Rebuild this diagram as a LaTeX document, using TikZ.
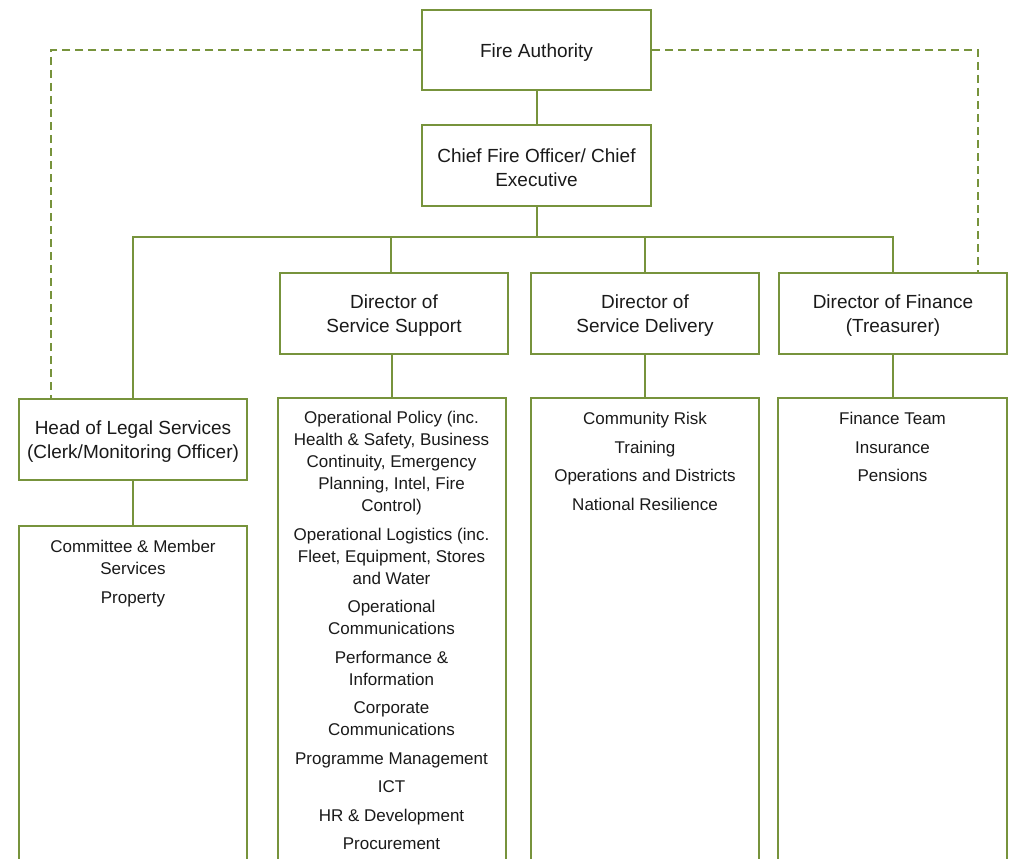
\documentclass[tikz,border=0pt]{standalone}
\usepackage{fontspec}
\setmainfont{Liberation Sans}
\definecolor{olive}{HTML}{77933C}
\definecolor{txt}{HTML}{1A1A1A}
\tikzset{
  box/.style={draw=olive, line width=2pt, fill=white, inner sep=0pt},
  boxtext/.style={inner sep=0pt, align=center, text=txt, font=\fontsize{19}{24}\selectfont},
  listbox/.style={draw=olive, line width=2pt, fill=white, inner sep=0pt},
  listtext/.style={anchor=north, inner sep=0pt, align=center, text=txt,
    font=\fontsize{17}{22}\selectfont},
  conn/.style={draw=olive, line width=2pt},
  dashconn/.style={draw=olive, line width=2pt, dash pattern=on 8pt off 5pt}
}
\begin{document}
\begin{tikzpicture}[x=1pt,y=-1pt]
\clip (0,0) rectangle (1009,859);
\fill[white] (0,0) rectangle (1009,859);

% header boxes
\node[box, minimum width=229, minimum height=80] (fa) at (536.5,50) {};
\node[box, minimum width=229, minimum height=81] (chief) at (536.5,165.5) {};
\node[box, minimum width=228, minimum height=81] (dss) at (394,313) {};
\node[box, minimum width=228, minimum height=81] (dsd) at (645,313) {};
\node[box, minimum width=228, minimum height=81] (dfin) at (893,313) {};
\node[box, minimum width=228, minimum height=81] (legal) at (133,439) {};

\node[boxtext] (tfa) at ([yshift=-2.5pt]fa.center) {Fire Authority};
\node[boxtext] (tchief) at ([yshift=-2.5pt]chief.center) {Chief Fire Officer/ Chief\\Executive};
\node[boxtext] (tdss) at ([yshift=-2.5pt]dss.center) {Director of\\Service Support};
\node[boxtext] (tdsd) at ([yshift=-2.5pt]dsd.center) {Director of\\Service Delivery};
\node[boxtext] (tdfin) at ([yshift=-2.5pt]dfin.center) {Director of Finance\\(Treasurer)};
\node[boxtext] (tlegal) at ([yshift=-2.5pt]legal.center) {Head of Legal Services\\(Clerk/Monitoring Officer)};

% list boxes (run past the bottom edge)
\node[listbox, minimum width=228, minimum height=360] (lcom) at (133,706) {};
\node[listbox, minimum width=228, minimum height=490] (lss) at (391.5,643) {};
\node[listbox, minimum width=228, minimum height=490] (lsd) at (645,643) {};
\node[listbox, minimum width=229, minimum height=490] (lfin) at (892.5,643) {};

% list texts
\node[listtext] (tcom) at (133,540) {Committee \& Member\\Services\\[6.5pt]Property};
\node[listtext] (tss) at (391.5,411) {Operational Policy (inc.\\Health \& Safety, Business\\Continuity, Emergency\\Planning, Intel, Fire\\Control)\\[6.5pt]
Operational Logistics (inc.\\Fleet, Equipment, Stores\\and Water\\[6.5pt]
Operational\\Communications\\[6.5pt]
Performance \&\\Information\\[6.5pt]
Corporate\\Communications\\[6.5pt]
Programme Management\\[6.5pt]
ICT\\[6.5pt]
HR \& Development\\[6.5pt]
Procurement};
\node[listtext] (tsd) at (645,412) {Community Risk\\[6.5pt]Training\\[6.5pt]Operations and Districts\\[6.5pt]National Resilience};
\node[listtext] (tfin) at (892.5,412) {Finance Team\\[6.5pt]Insurance\\[6.5pt]Pensions};

% connectors
\coordinate (bus) at (536.5,237);
\draw[conn] (fa.south) -- (chief.north);
\draw[conn] (chief.south) -- (bus);
\draw[conn] (bus) -| (legal.north);
\draw[conn] (bus) -| ([xshift=-3pt]dss.north);
\draw[conn] (bus) -| (dsd.north);
\draw[conn] (bus) -| (dfin.north);
\draw[conn] (legal.south) -- (lcom.north);
\draw[conn] (dss.south -| lss.north) -- (lss.north);
\draw[conn] (dsd.south) -- (lsd.north);
\draw[conn] (dfin.south -| lfin.north) -- (lfin.north);
\draw[dashconn] (fa.west) -| ([xshift=33pt]legal.north west);
\draw[dashconn] (fa.east) -| ([xshift=85pt]dfin.north);
\end{tikzpicture}
\end{document}
